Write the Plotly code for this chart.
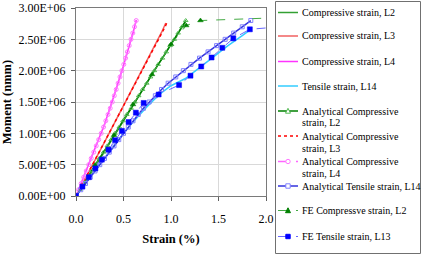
import plotly.graph_objects as go

# ---------------- data ----------------
# measured
c2_strain = [0, 0.1, 0.2, 0.3, 0.4, 0.5, 0.6, 0.7, 0.8, 0.9, 1.0, 1.1, 1.16]
c2_moment = [0, 0.22e6, 0.46e6, 0.71e6, 0.95e6, 1.19e6, 1.44e6, 1.69e6, 1.94e6, 2.18e6, 2.42e6, 2.66e6, 2.80e6]

c3_strain = [0, 0.1, 0.2, 0.3, 0.4, 0.5, 0.6, 0.7, 0.8, 0.9, 0.945]
c3_moment = [0, 0.28e6, 0.57e6, 0.86e6, 1.15e6, 1.44e6, 1.73e6, 2.03e6, 2.32e6, 2.61e6, 2.76e6]

c4_strain = [0, 0.1, 0.2, 0.3, 0.4, 0.5, 0.6, 0.635]
c4_moment = [0, 0.37e6, 0.75e6, 1.14e6, 1.60e6, 2.08e6, 2.60e6, 2.81e6]

t14_strain = [0, 0.1, 0.25, 0.4, 0.5, 0.6, 0.75, 0.888, 1.0, 1.152, 1.3, 1.418, 1.6, 1.75, 1.84]
t14_moment = [0, 0.2e6, 0.51e6, 0.8e6, 1.0e6, 1.18e6, 1.43e6, 1.635e6, 1.76e6, 1.875e6, 2.05e6,
              2.195e6, 2.40e6, 2.56e6, 2.66e6]

# analytical
an_moment = [0, 0.1e6, 0.2e6, 0.3e6, 0.4e6, 0.5e6, 0.6e6, 0.7e6, 0.8e6, 0.9e6, 1.0e6, 1.1e6, 1.2e6,
             1.3e6, 1.4e6, 1.5e6, 1.6e6, 1.7e6, 1.8e6, 1.9e6, 2.0e6, 2.1e6, 2.2e6, 2.3e6, 2.4e6,
             2.5e6, 2.6e6, 2.7e6, 2.8e6]
an2_strain = [0, 0.04, 0.08, 0.12, 0.165, 0.205, 0.245, 0.29, 0.33, 0.37, 0.41, 0.455, 0.495, 0.535,
              0.58, 0.62, 0.66, 0.70, 0.745, 0.785, 0.825, 0.865, 0.91, 0.95, 0.99, 1.035, 1.075,
              1.115, 1.155]
an3_strain = [0, 0.035, 0.07, 0.104, 0.139, 0.174, 0.209, 0.243, 0.278, 0.313, 0.348, 0.382, 0.417,
              0.452, 0.487, 0.521, 0.556, 0.591, 0.626, 0.66, 0.695, 0.73, 0.765, 0.799, 0.834,
              0.869, 0.904, 0.938, 0.966]
an4_strain = [0, 0.027, 0.054, 0.081, 0.108, 0.134, 0.16, 0.187, 0.213, 0.239, 0.265, 0.29, 0.314,
              0.337, 0.36, 0.382, 0.403, 0.423, 0.443, 0.463, 0.483, 0.503, 0.522, 0.541, 0.56,
              0.579, 0.598, 0.616, 0.634]
an14_strain = [0, 0.05, 0.10, 0.15, 0.20, 0.25, 0.30, 0.35, 0.40, 0.45, 0.50, 0.55, 0.60, 0.655,
               0.71, 0.77, 0.835, 0.90, 0.97, 1.05, 1.13, 1.21, 1.30, 1.39, 1.48, 1.57, 1.66,
               1.75, 1.84]

# finite element
fe2_strain = [0, 0.2, 0.4, 0.6, 0.8, 1.0, 1.16, 1.31, 2.4]
fe2_moment = [0, 0.49e6, 0.97e6, 1.46e6, 1.94e6, 2.42e6, 2.72e6, 2.80e6, 2.86e6]

fe13_strain = [0, 0.068, 0.135, 0.204, 0.272, 0.342, 0.412, 0.483, 0.553, 0.63, 0.712, 0.87,
               1.085, 1.205, 1.318, 1.427, 1.54, 1.656, 1.83, 2.3]
fe13_moment = [0, 0.15e6, 0.30e6, 0.44e6, 0.58e6, 0.74e6, 0.89e6, 1.04e6, 1.18e6, 1.33e6,
               1.485e6, 1.62e6, 1.77e6, 1.92e6, 2.067e6, 2.21e6, 2.365e6, 2.515e6, 2.66e6, 2.72e6]

series_names = ["Compressive strain, L2", "Compressive strain, L3", "Compressive strain, L4",
                "Tensile strain, L14", "Analytical Compressive strain, L2",
                "Analytical Compressive strain, L3", "Analytical Compressive strain, L4",
                "Analytical Tensile strain, L14", "FE Compressve strain, L2", "FE Tensile strain, L13"]

y_tickvals = [0, 0.5e6, 1.0e6, 1.5e6, 2.0e6, 2.5e6, 3.0e6]
y_ticktext = ["0.00E+00", "5.00E+05", "1.00E+06", "1.50E+06", "2.00E+06", "2.50E+06", "3.00E+06"]
x_tickvals = [0, 0.5, 1.0, 1.5, 2.0]

# ---------------- styles ----------------
FONT = "Liberation Serif, Times New Roman, serif"
W, H = 426, 259
PL, PR, PT, PB = 76, 266, 8, 196      # plot-area edges in pixels

def px(xp):
    return xp / W

def py(yp):
    return 1 - yp / H

# (line colour, dash, width, marker symbol, marker size, marker colour)
styles = [
    ("#33A033", "solid", 1.5, None, 0, None),
    ("#F06060", "solid", 1.5, None, 0, None),
    ("#FF33FF", "solid", 1.5, None, 0, None),
    ("#33CCFF", "solid", 1.5, None, 0, None),
    ("#008000", "solid", 1.5, "triangle-up-open", 4, "#55BB55"),
    ("#FF0000", "dot", 1.5, None, 0, None),
    ("#FF66FF", "dash", 1.5, "circle-open", 4, "#FF77FF"),
    ("#3333DD", "solid", 1.5, "square-open", 4, "#8080FF"),
    ("#44AA44", "dash", 1.0, "triangle-up", 5, "#008000"),
    ("#6666FF", "dash", 1.0, "square", 5, "#0000FF"),
]
series_x = [c2_strain, c3_strain, c4_strain, t14_strain, an2_strain, an3_strain, an4_strain,
            an14_strain, fe2_strain, fe13_strain]
series_y = [c2_moment, c3_moment, c4_moment, t14_moment, an_moment, an_moment, an_moment,
            an_moment, fe2_moment, fe13_moment]

fig = go.Figure()
for name, xs, ys, (lc, dash, lw, sym, ms, mc) in zip(series_names, series_x, series_y, styles):
    kw = {}
    if sym:
        kw["marker"] = dict(symbol=sym, size=ms, color=mc,
                            line=dict(color=mc, width=1 if sym.endswith("open") else 0.5))
    fig.add_trace(go.Scatter(x=xs, y=ys, name=name, mode="lines+markers" if sym else "lines",
                             line=dict(color=lc, dash=dash, width=lw), showlegend=False, **kw))

# ---------------- legend (drawn by hand in a pixel-space overlay) ----------------
BX0, BX1, BY0, BY1 = 275.5, 420.5, 1.5, 253.5
fig.add_trace(go.Scatter(x=[BX0, BX1, BX1, BX0, BX0], y=[BY0, BY0, BY1, BY1, BY0],
                         xaxis="x2", yaxis="y2", mode="lines", hoverinfo="skip",
                         line=dict(color="#707070", width=1), showlegend=False, cliponaxis=False))

def seg(x0, y0, x1, y1, color, width=1, dash="solid"):
    return dict(type="line", xref="paper", yref="paper", x0=px(x0), x1=px(x1),
                y0=py(y0), y1=py(y1), line=dict(color=color, width=width, dash=dash))

legend_rows = [12.5, 36, 61.5, 86, 111, 136, 161.5, 186, 210.5, 236.5]
legend_lines = [[n] for n in series_names[:4]] + \
    [["Analytical Compressive", "strain, L2"], ["Analytical Compressive", "strain, L3"],
     ["Analytical Compressive", "strain, L4"]] + [[n] for n in series_names[7:]]

shapes = []
annotations = []
LX0, LX1, TX = 278, 298, 299.5
for row, lines, (lc, dash, lw, sym, ms, mc) in zip(legend_rows, legend_lines, styles):
    shapes.append(seg(LX0, row, LX1, row, lc, lw, dash))
    cx = (LX0 + LX1) / 2
    if sym:
        fill = mc if not sym.endswith("open") else "white"
        r = 2.2
        if sym.startswith("triangle"):
            path = "M %f %f L %f %f L %f %f Z" % (px(cx), py(row - r - 0.5), px(cx - r - 0.3), py(row + r),
                                                  px(cx + r + 0.3), py(row + r))
            shapes.append(dict(type="path", xref="paper", yref="paper", path=path,
                               line=dict(color=mc, width=1), fillcolor=fill))
        elif sym.startswith("square"):
            shapes.append(dict(type="rect", xref="paper", yref="paper", x0=px(cx - r), x1=px(cx + r),
                               y0=py(row + r), y1=py(row - r), line=dict(color=mc, width=1), fillcolor=fill))
        else:
            shapes.append(dict(type="circle", xref="paper", yref="paper", x0=px(cx - r), x1=px(cx + r),
                               y0=py(row + r), y1=py(row - r), line=dict(color=mc, width=1), fillcolor=fill))
    for k, t in enumerate(lines):
        annotations.append(dict(text=t, xref="paper", yref="paper", x=px(TX), y=py(row + 12 * k),
                                xanchor="left", yanchor="middle", showarrow=False,
                                font=dict(family=FONT, size=10, color="black")))

fig.update_layout(
    width=W, height=H,
    margin=dict(l=0, r=0, t=0, b=0, pad=0, autoexpand=False),
    paper_bgcolor="white", plot_bgcolor="rgba(0,0,0,0)",
    font=dict(family=FONT, size=12, color="black"),
    showlegend=False,
    xaxis=dict(domain=[px(PL), px(PR)], range=[0, 2.0], tickvals=x_tickvals, tickformat=".1f",
               showgrid=True, gridcolor="#D9D9D9", gridwidth=1, zeroline=False,
               showline=True, linecolor="#7A7A7A", linewidth=1, mirror=True,
               ticks="outside", ticklen=4, tickcolor="#606060", ticklabelstandoff=8,
               title=dict(text="<b>Strain (%)</b>", font=dict(size=12.5), standoff=8)),
    yaxis=dict(domain=[py(PB), py(PT)], range=[0, 3.0e6], tickvals=y_tickvals, ticktext=y_ticktext,
               showgrid=True, gridcolor="#D9D9D9", gridwidth=1, zeroline=False,
               showline=True, linecolor="#7A7A7A", linewidth=1, mirror=True,
               ticks="outside", ticklen=4, tickcolor="#606060", ticklabelstandoff=3,
               title=dict(text="<b>Moment (nmm)</b>", font=dict(size=12.5), standoff=6)),
    xaxis2=dict(domain=[0, 1], range=[0, W], anchor="y2", visible=False, fixedrange=True),
    yaxis2=dict(domain=[0, 1], range=[H, 0], anchor="x2", visible=False, fixedrange=True),
    shapes=shapes,
    annotations=annotations,
)

fig.write_html("out.html")
